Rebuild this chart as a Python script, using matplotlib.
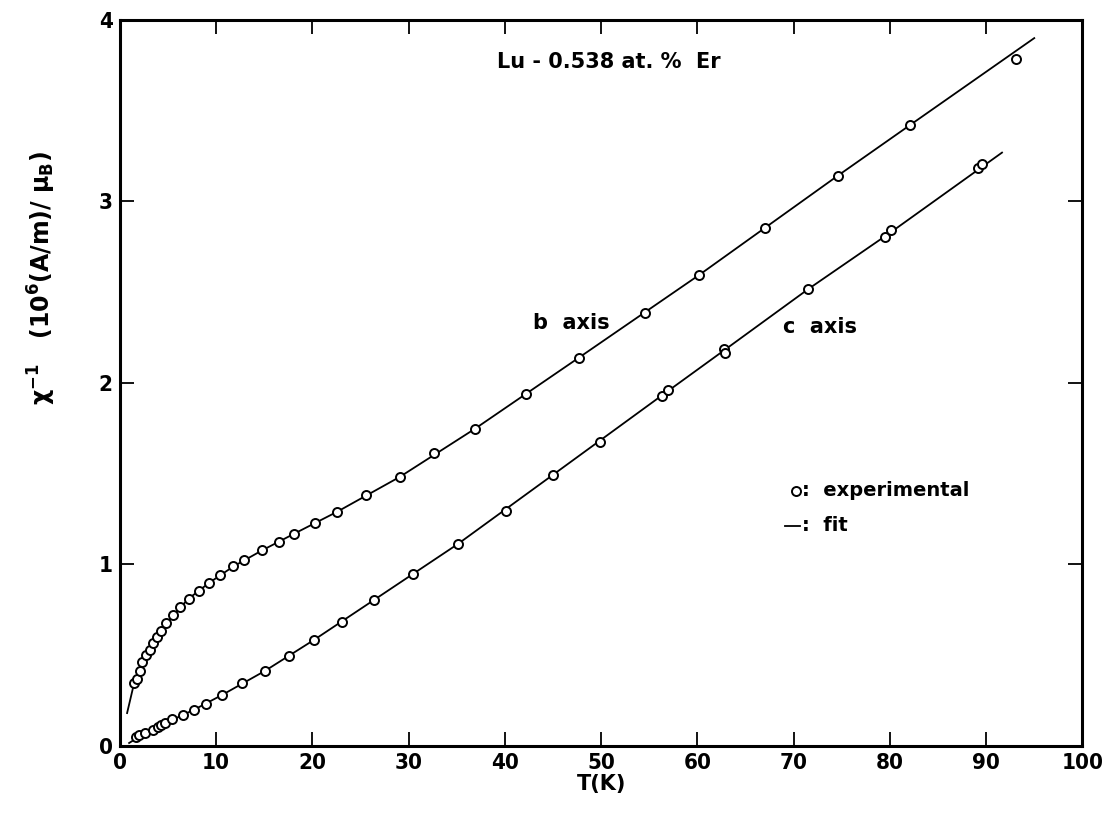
import matplotlib
matplotlib.use("Agg")
import matplotlib.pyplot as plt

# b axis: measured points (T in K, inverse susceptibility)
b_T = [1.49, 1.8, 2.08, 2.36, 2.7, 3.1, 3.5, 3.88, 4.26, 4.85, 5.54, 6.3, 7.14,
       8.18, 9.29, 10.43, 11.8, 12.9, 14.76, 16.5, 18.1, 20.3, 22.6, 25.6, 29.1,
       32.6, 36.9, 42.2, 47.7, 54.6, 60.2, 67.05, 74.6, 82.1, 93.1]
b_chi = [0.345, 0.37, 0.41, 0.46, 0.50, 0.53, 0.566, 0.597, 0.63, 0.676, 0.72,
         0.767, 0.81, 0.855, 0.898, 0.942, 0.988, 1.023, 1.076, 1.124, 1.168,
         1.229, 1.29, 1.381, 1.482, 1.613, 1.747, 1.941, 2.139, 2.387, 2.595,
         2.852, 3.142, 3.421, 3.783]

# c axis: measured points
c_T = [1.66, 2.0, 2.63, 3.46, 3.92, 4.26, 4.75, 5.47, 6.58, 7.7, 8.94, 10.67,
       12.7, 15.1, 17.6, 20.2, 23.1, 26.4, 30.5, 35.1, 40.1, 45.0, 49.9, 56.3,
       57.0, 62.8, 62.9, 71.5, 79.45, 80.1, 89.2, 89.6]
c_chi = [0.046, 0.057, 0.07, 0.088, 0.103, 0.112, 0.125, 0.147, 0.172, 0.198,
         0.231, 0.281, 0.345, 0.413, 0.494, 0.584, 0.683, 0.803, 0.948, 1.111,
         1.295, 1.493, 1.673, 1.930, 1.958, 2.186, 2.167, 2.516, 2.806, 2.843,
         3.186, 3.207]

# fitted curves
b_fit_T = [0.76, 1.49, 2.08, 2.7, 3.5, 4.26, 5.54, 7.14, 9.29, 11.8, 14.76, 18.1,
           22.6, 29.1, 36.9, 47.7, 60.2, 74.6, 82.1, 95.0]
b_fit_chi = [0.18, 0.345, 0.41, 0.50, 0.566, 0.63, 0.72, 0.81, 0.898, 0.988,
             1.076, 1.168, 1.29, 1.482, 1.747, 2.139, 2.595, 3.142, 3.421, 3.90]
c_fit_T = [0.97, 2.63, 4.75, 7.7, 10.67, 15.1, 20.2, 26.4, 35.1, 45.0, 56.3,
           62.8, 71.5, 80.1, 91.65]
c_fit_chi = [0.015, 0.07, 0.125, 0.198, 0.281, 0.413, 0.584, 0.803, 1.111, 1.493,
             1.930, 2.18, 2.516, 2.83, 3.269]

x_ticks = [0, 10, 20, 30, 40, 50, 60, 70, 80, 90, 100]
y_ticks = [0, 1, 2, 3, 4]

plt.rcParams['font.family'] = ['DejaVu Sans']
plt.rcParams['mathtext.default'] = 'regular'

fig = plt.figure(figsize=(11.09, 8.15), dpi=100)
ax = fig.add_axes([0.108, 0.085, 0.868, 0.8905])

ax.plot(b_fit_T, b_fit_chi, color='black', lw=1.3)
ax.plot(c_fit_T, c_fit_chi, color='black', lw=1.3)
ax.plot(b_T, b_chi, 'o', mfc='white', mec='black', ms=6.5, mew=1.4)
ax.plot(c_T, c_chi, 'o', mfc='white', mec='black', ms=6.5, mew=1.4)

ax.set_xlim(0, 100)
ax.set_ylim(0, 4)
ax.set_xticks(x_ticks)
ax.set_yticks(y_ticks)
ax.tick_params(direction='in', length=10, width=1.3, top=True, right=True,
               labelsize=16, pad=5)
for lab in ax.get_xticklabels() + ax.get_yticklabels():
    lab.set_fontweight('bold')
    lab.set_fontstretch('condensed')
for sp in ax.spines.values():
    sp.set_linewidth(2.2)

ax.set_xlabel('T(K)', fontsize=15, fontweight='bold', labelpad=1)
ax.set_ylabel(r'$\chi^{-1}$   (10$^{6}$(A/m)/ $\mu_{B}$)', fontsize=17,
              fontweight='bold')
ax.yaxis.set_label_coords(-0.064, 0.645)

ax.text(50.8, 3.77, 'Lu - 0.538 at. %  Er', fontsize=15, fontweight='bold',
        ha='center', va='center')
ax.text(42.9, 2.33, 'b  axis', fontsize=15, fontweight='bold', va='center')
ax.text(68.9, 2.31, 'c  axis', fontsize=15, fontweight='bold', va='center')

# legend drawn by hand
ax.plot([70.2], [1.405], 'o', mfc='white', mec='black', ms=6.5, mew=1.4)
ax.text(70.9, 1.405, ':  experimental', fontsize=14, fontweight='bold', va='center')
ax.plot([69.1, 70.7], [1.212, 1.212], color='black', lw=1.3)
ax.text(70.9, 1.212, ':  fit', fontsize=14, fontweight='bold', va='center')

fig.savefig('out.png', dpi=100)
